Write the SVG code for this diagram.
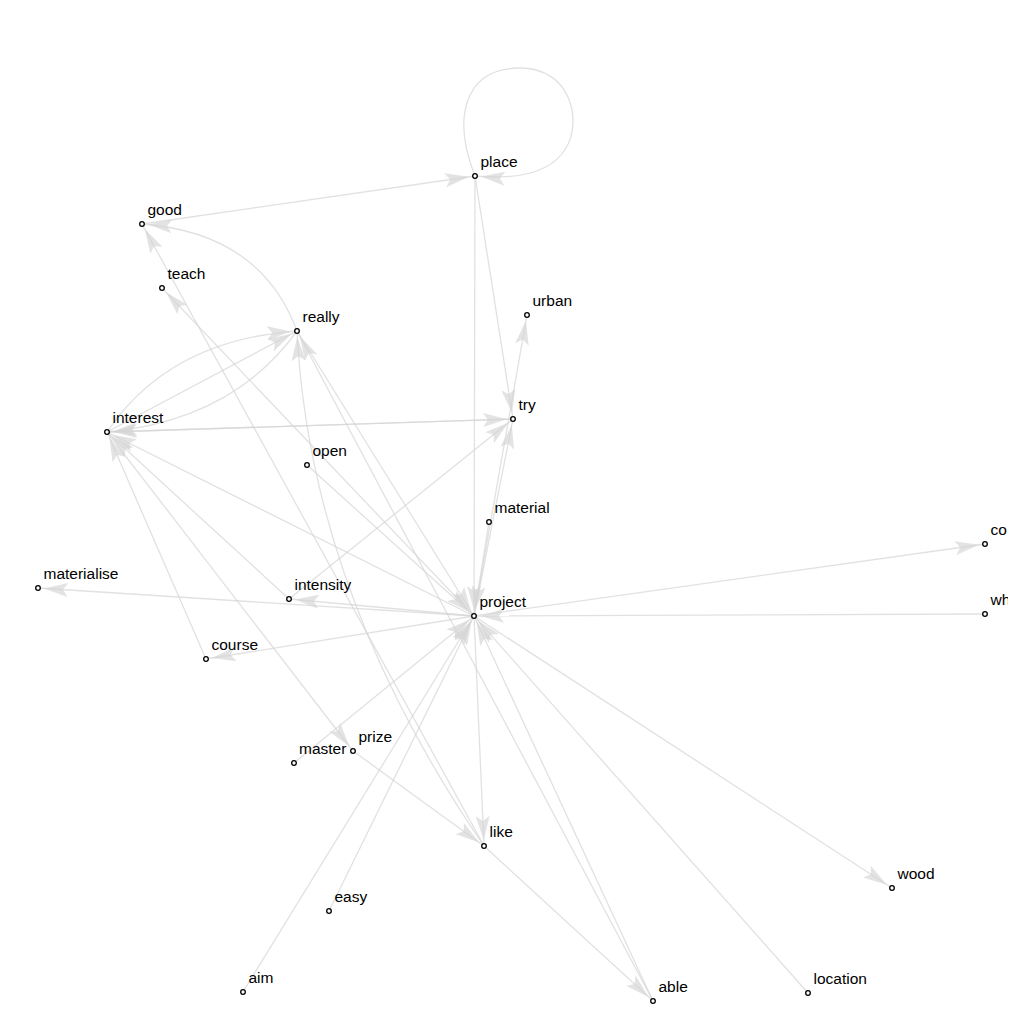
<svg xmlns="http://www.w3.org/2000/svg" width="1024" height="1024" viewBox="0 0 1024 1024">
<defs>
<style>
.e{stroke:#d6d6d6;stroke-width:1.3;fill:none;stroke-opacity:0.72;marker-end:url(#arr)}
.n circle{fill:#fff;stroke:#000;stroke-width:1.3}
.n text{font-family:"Liberation Sans",Arial,sans-serif;font-size:15.5px;fill:#000}
</style>
<marker id="arr" viewBox="0 0 24 14" markerWidth="24" markerHeight="14" refX="30" refY="7" orient="auto" markerUnits="userSpaceOnUse">
<path d="M0,0 L24,7 L0,14 L5,7 z" fill="#d4d4d4" fill-opacity="0.65"/>
</marker>
<clipPath id="cp"><rect x="0" y="0" width="1008" height="1024"/></clipPath>
</defs>
<rect width="1024" height="1024" fill="#fff"/>
<g clip-path="url(#cp)">
<g id="edges">
<line class="e" x1="142" y1="224" x2="475" y2="176"/>
<path class="e" d="M475,176 C452,118 464,68 520,68 C572,68 582,122 566,148 C552,172 520,180 475,176"/>
<line class="e" x1="475" y1="176" x2="513" y2="419"/>
<line class="e" x1="475" y1="176" x2="474" y2="616"/>
<line class="e" x1="484" y1="846" x2="142" y2="224"/>
<path class="e" d="M297,331 Q261,233 142,224"/>
<line class="e" x1="474" y1="616" x2="162" y2="288"/>
<path class="e" d="M107,432 Q169,340 297,331"/>
<line class="e" x1="107" y1="432" x2="297" y2="331"/>
<path class="e" d="M297,331 Q233,420 107,432"/>
<line class="e" x1="107" y1="432" x2="513" y2="419"/>
<line class="e" x1="513" y1="419" x2="107" y2="432"/>
<line class="e" x1="474" y1="616" x2="107" y2="432"/>
<line class="e" x1="206" y1="659" x2="107" y2="432"/>
<line class="e" x1="289" y1="599" x2="107" y2="432"/>
<line class="e" x1="107" y1="432" x2="353" y2="751"/>
<line class="e" x1="474" y1="616" x2="289" y2="599"/>
<line class="e" x1="474" y1="616" x2="38" y2="588"/>
<line class="e" x1="289" y1="599" x2="513" y2="419"/>
<line class="e" x1="474" y1="616" x2="206" y2="659"/>
<line class="e" x1="474" y1="616" x2="985" y2="544"/>
<line class="e" x1="985" y1="614" x2="474" y2="616"/>
<line class="e" x1="474" y1="616" x2="892" y2="888"/>
<line class="e" x1="808" y1="993" x2="474" y2="616"/>
<line class="e" x1="474" y1="616" x2="484" y2="846"/>
<line class="e" x1="353" y1="751" x2="484" y2="846"/>
<line class="e" x1="484" y1="846" x2="653" y2="1001"/>
<line class="e" x1="294" y1="763" x2="474" y2="616"/>
<line class="e" x1="329" y1="911" x2="474" y2="616"/>
<line class="e" x1="243" y1="992" x2="474" y2="616"/>
<line class="e" x1="474" y1="616" x2="513" y2="419"/>
<line class="e" x1="474" y1="616" x2="527" y2="315"/>
<line class="e" x1="489" y1="522" x2="474" y2="616"/>
<line class="e" x1="297" y1="331" x2="474" y2="616"/>
<line class="e" x1="653" y1="1001" x2="297" y2="331"/>
<line class="e" x1="653" y1="1001" x2="474" y2="616"/>
<path class="e" d="M484,846 Q310,592 297,331"/>
<line class="e" x1="307" y1="465" x2="474" y2="616"/>
</g>
<g id="n-place" class="n"><circle cx="475" cy="176" r="2.3"/><text x="480.5" y="167">place</text></g>
<g id="n-good" class="n"><circle cx="142" cy="224" r="2.3"/><text x="147.5" y="215">good</text></g>
<g id="n-teach" class="n"><circle cx="162" cy="288" r="2.3"/><text x="167.5" y="279">teach</text></g>
<g id="n-really" class="n"><circle cx="297" cy="331" r="2.3"/><text x="302.5" y="322">really</text></g>
<g id="n-urban" class="n"><circle cx="527" cy="315" r="2.3"/><text x="532.5" y="306">urban</text></g>
<g id="n-try" class="n"><circle cx="513" cy="419" r="2.3"/><text x="518.5" y="410">try</text></g>
<g id="n-interest" class="n"><circle cx="107" cy="432" r="2.3"/><text x="112.5" y="423">interest</text></g>
<g id="n-open" class="n"><circle cx="307" cy="465" r="2.3"/><text x="312.5" y="456">open</text></g>
<g id="n-material" class="n"><circle cx="489" cy="522" r="2.3"/><text x="494.5" y="513">material</text></g>
<g id="n-co" class="n"><circle cx="985" cy="544" r="2.3"/><text x="990.5" y="535">co</text></g>
<g id="n-materialise" class="n"><circle cx="38" cy="588" r="2.3"/><text x="43.5" y="579">materialise</text></g>
<g id="n-intensity" class="n"><circle cx="289" cy="599" r="2.3"/><text x="294.5" y="590">intensity</text></g>
<g id="n-project" class="n"><circle cx="474" cy="616" r="2.3"/><text x="479.5" y="607">project</text></g>
<g id="n-wh" class="n"><circle cx="985" cy="614" r="2.3"/><text x="990.5" y="605">wh</text></g>
<g id="n-course" class="n"><circle cx="206" cy="659" r="2.3"/><text x="211.5" y="650">course</text></g>
<g id="n-master" class="n"><circle cx="294" cy="763" r="2.3"/><text x="299" y="754">master</text></g>
<g id="n-prize" class="n"><circle cx="353" cy="751" r="2.3"/><text x="358.5" y="742">prize</text></g>
<g id="n-like" class="n"><circle cx="484" cy="846" r="2.3"/><text x="489.5" y="837">like</text></g>
<g id="n-wood" class="n"><circle cx="892" cy="888" r="2.3"/><text x="897.5" y="879">wood</text></g>
<g id="n-easy" class="n"><circle cx="329" cy="911" r="2.3"/><text x="334.5" y="902">easy</text></g>
<g id="n-aim" class="n"><circle cx="243" cy="992" r="2.3"/><text x="248.5" y="983">aim</text></g>
<g id="n-able" class="n"><circle cx="653" cy="1001" r="2.3"/><text x="658.5" y="992">able</text></g>
<g id="n-location" class="n"><circle cx="808" cy="993" r="2.3"/><text x="813.5" y="984">location</text></g>
</g>
</svg>
